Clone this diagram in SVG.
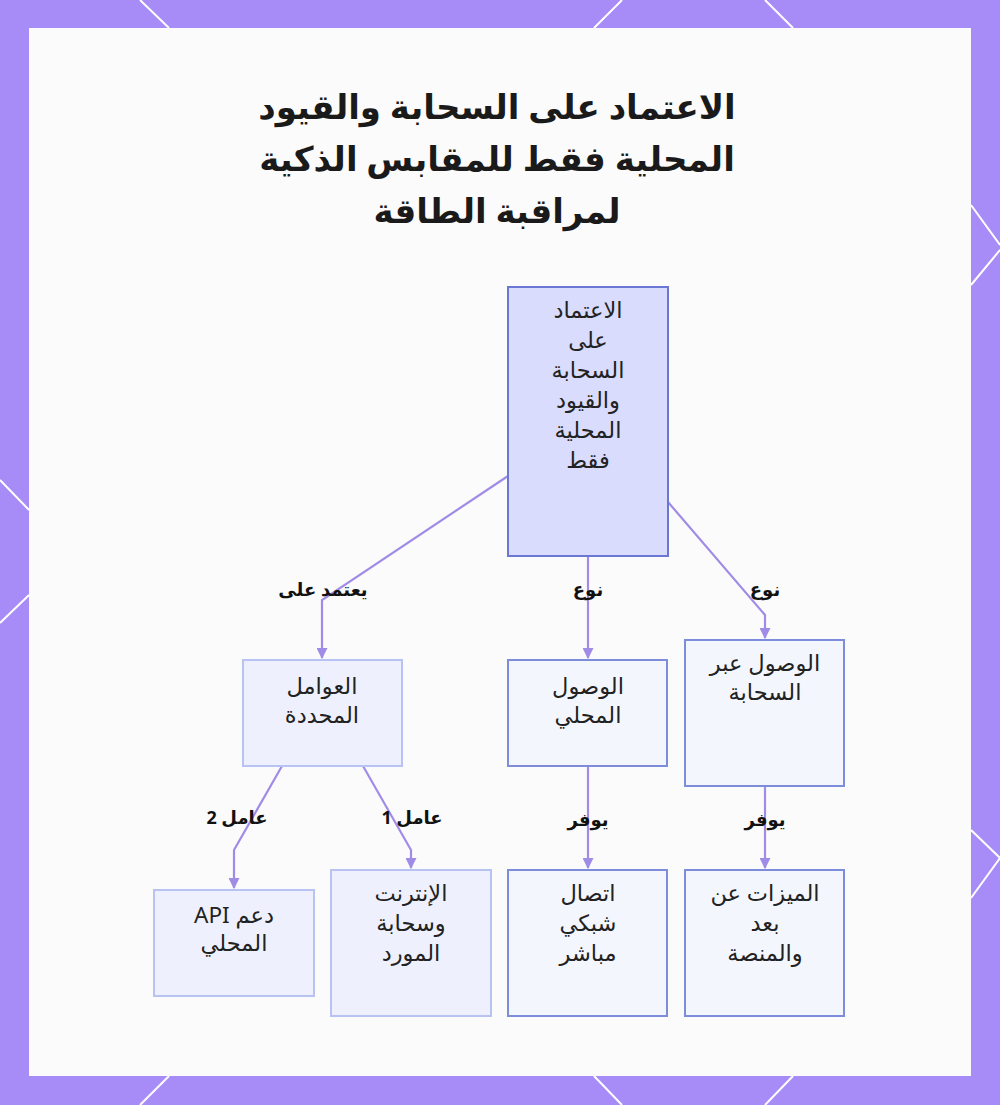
<svg xmlns="http://www.w3.org/2000/svg" width="1000" height="1105" viewBox="0 0 1000 1105">
<defs>
<style>
.frame{fill:#a78cf8}
.deco{stroke:#ffffff;stroke-width:2;fill:none}
.panel{fill:#fbfbfb}
.title{font-family:"Noto Sans","DejaVu Sans",sans-serif;font-weight:bold;font-size:34px;fill:#1a1a1a;text-anchor:middle}
.lbl{font-family:"Noto Sans","DejaVu Sans",sans-serif;font-size:22.5px;fill:#222;text-anchor:middle}
.elbl{font-family:"Noto Sans","DejaVu Sans",sans-serif;font-weight:bold;font-size:18px;fill:#111;text-anchor:middle}
.edge{stroke:#a08ce6;stroke-width:2.2;fill:none}
.root{fill:#d9dcfd;stroke:#6a78d4;stroke-width:2}
.soft{fill:#eef1fd;stroke:#b8c2f3;stroke-width:2}
.mid{fill:#f4f6fe;stroke:#7d8ddc;stroke-width:2}
</style>
<marker id="arr" viewBox="0 0 10 10" refX="9" refY="5" markerWidth="5" markerHeight="5" orient="auto">
<path d="M0,0 L10,5 L0,10 z" fill="#a08ce6"/>
</marker>
</defs>
<rect x="0" y="0" width="1000" height="1105" class="frame"/>
<g class="deco">
<path d="M140,0 L169,28 M622,0 L594,28 M765,0 L793,28"/>
<path d="M169,1076 L140,1105 M594,1076 L622,1105 M793,1076 L765,1105"/>
<path d="M0,480 L29,510 M29,595 L0,623"/>
<path d="M971,205 L1000,245 M1000,250 L971,285"/>
<path d="M971,830 L1000,858 M1000,858 L971,898"/>
</g>
<rect x="29" y="28" width="942" height="1048" class="panel"/>
<g id="title">
<text class="title" x="497" y="119" direction="rtl">الاعتماد على السحابة والقيود</text>
<text class="title" x="497" y="171" direction="rtl">المحلية فقط للمقابس الذكية</text>
<text class="title" x="497" y="223" direction="rtl">لمراقبة الطاقة</text>
</g>
<g id="connectors">
<path class="edge" d="M508,476 L322,600 L322,658" marker-end="url(#arr)"/>
<path class="edge" d="M588,556 L588,658" marker-end="url(#arr)"/>
<path class="edge" d="M668,502 L765,615 L765,638" marker-end="url(#arr)"/>
<path class="edge" d="M282,766 L234,850 L234,888" marker-end="url(#arr)"/>
<path class="edge" d="M363,766 L411,850 L411,868" marker-end="url(#arr)"/>
<path class="edge" d="M588,766 L588,868" marker-end="url(#arr)"/>
<path class="edge" d="M765,786 L765,868" marker-end="url(#arr)"/>
<text class="elbl" x="323" y="596" direction="rtl">يعتمد على</text>
<text class="elbl" x="588" y="596" direction="rtl">نوع</text>
<text class="elbl" x="765" y="596" direction="rtl">نوع</text>
<text class="elbl" x="237" y="824" direction="rtl">عامل 2</text>
<text class="elbl" x="412" y="824" direction="rtl">عامل 1</text>
<text class="elbl" x="588" y="826" direction="rtl">يوفر</text>
<text class="elbl" x="765" y="826" direction="rtl">يوفر</text>
</g>
<g id="root">
<rect class="root" x="508" y="287" width="160" height="269"/>
<text class="lbl" x="588" y="318" direction="rtl">الاعتماد</text>
<text class="lbl" x="588" y="348" direction="rtl">على</text>
<text class="lbl" x="588" y="378" direction="rtl">السحابة</text>
<text class="lbl" x="588" y="408" direction="rtl">والقيود</text>
<text class="lbl" x="588" y="438" direction="rtl">المحلية</text>
<text class="lbl" x="588" y="468" direction="rtl">فقط</text>
</g>
<g id="factors">
<rect class="soft" x="243" y="660" width="159" height="106"/>
<text class="lbl" x="322" y="694" direction="rtl">العوامل</text>
<text class="lbl" x="322" y="723" direction="rtl">المحددة</text>
</g>
<g id="local">
<rect class="mid" x="508" y="660" width="159" height="106"/>
<text class="lbl" x="588" y="694" direction="rtl">الوصول</text>
<text class="lbl" x="588" y="723" direction="rtl">المحلي</text>
</g>
<g id="cloud">
<rect class="mid" x="685" y="640" width="159" height="146"/>
<text class="lbl" x="765" y="671" direction="rtl">الوصول عبر</text>
<text class="lbl" x="765" y="700" direction="rtl">السحابة</text>
</g>
<g id="api">
<rect class="soft" x="154" y="890" width="160" height="106"/>
<text class="lbl" x="234" y="923" direction="rtl">دعم API</text>
<text class="lbl" x="234" y="951" direction="rtl">المحلي</text>
</g>
<g id="internet">
<rect class="soft" x="331" y="870" width="160" height="146"/>
<text class="lbl" x="411" y="901" direction="rtl">الإنترنت</text>
<text class="lbl" x="411" y="931" direction="rtl">وسحابة</text>
<text class="lbl" x="411" y="961" direction="rtl">المورد</text>
</g>
<g id="direct">
<rect class="mid" x="508" y="870" width="159" height="146"/>
<text class="lbl" x="588" y="901" direction="rtl">اتصال</text>
<text class="lbl" x="588" y="931" direction="rtl">شبكي</text>
<text class="lbl" x="588" y="961" direction="rtl">مباشر</text>
</g>
<g id="remote">
<rect class="mid" x="685" y="870" width="159" height="146"/>
<text class="lbl" x="765" y="901" direction="rtl">الميزات عن</text>
<text class="lbl" x="765" y="931" direction="rtl">بعد</text>
<text class="lbl" x="765" y="961" direction="rtl">والمنصة</text>
</g>
</svg>
